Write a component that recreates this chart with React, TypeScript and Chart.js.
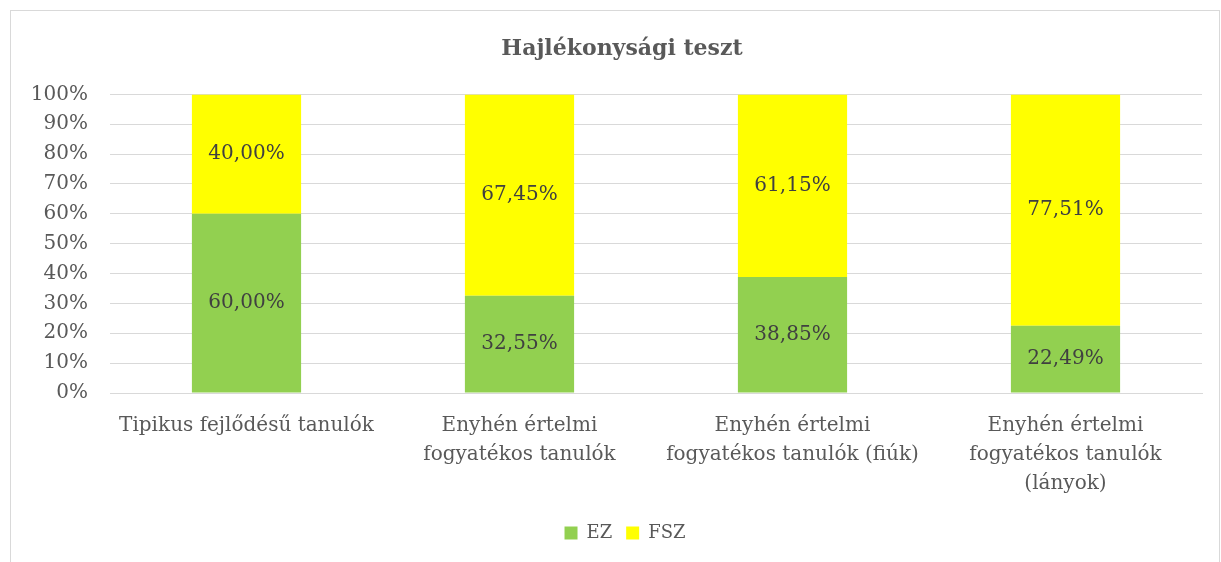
import React, { useEffect, useRef } from "react";
import { Chart, registerables } from "chart.js";

Chart.register(...registerables);

const categories: (string | string[])[] = [
  "Tipikus fejlődésű tanulók",
  ["Enyhén értelmi", "fogyatékos tanulók"],
  ["Enyhén értelmi", "fogyatékos tanulók (fiúk)"],
  ["Enyhén értelmi", "fogyatékos tanulók", "(lányok)"],
];
const ezValues = [60.0, 32.55, 38.85, 22.49];
const fszValues = [40.0, 67.45, 61.15, 77.51];
const seriesNames = ["EZ", "FSZ"];
const titleText = "Hajlékonysági teszt";

const FONT = "'DejaVu Serif', 'Liberation Serif', serif";

const frame = {
  id: "frame",
  beforeDraw(chart: any) {
    const ctx = chart.ctx;
    ctx.save();
    ctx.fillStyle = "#ffffff";
    ctx.fillRect(0, 0, chart.width, chart.height);
    ctx.strokeStyle = "#D9D9D9";
    ctx.lineWidth = 1;
    ctx.strokeRect(10.5, 10.5, 1209, 600);
    ctx.restore();
  },
};

// Centre title and legend over the bordered frame rather than the canvas
const recenter = {
  id: "recenter",
  afterLayout(chart: any) {
    const shift = (box: any, dx: number) => {
      if (!box) return;
      box.left += dx;
      box.right += dx;
    };
    shift(chart.titleBlock, 21);
    shift(chart.legend, 24);
  },
};

const valueLabels = {
  id: "valueLabels",
  afterDatasetsDraw(chart: any) {
    const ctx = chart.ctx;
    ctx.save();
    ctx.font = `20px ${FONT}`;
    ctx.fillStyle = "#404040";
    ctx.textAlign = "center";
    ctx.textBaseline = "middle";
    chart.data.datasets.forEach((ds: any, di: number) => {
      const meta = chart.getDatasetMeta(di);
      meta.data.forEach((bar: any, i: number) => {
        const v = ds.data[i];
        const y = (bar.y + bar.base) / 2;
        ctx.fillText(v.toFixed(2).replace(".", ",") + "%", bar.x, y);
      });
    });
    ctx.restore();
  },
};

export default function App() {
  const ref = useRef<HTMLCanvasElement>(null);
  useEffect(() => {
    const chart = new Chart(ref.current!, {
      type: "bar",
      data: {
        labels: categories,
        datasets: [
          { label: seriesNames[0], data: ezValues, backgroundColor: "#92D050" },
          { label: seriesNames[1], data: fszValues, backgroundColor: "#FFFF00" },
        ],
      },
      options: {
        animation: false,
        responsive: false,
        layout: { padding: { left: 0, right: 19, top: 0, bottom: 10 } },
        datasets: { bar: { barPercentage: 0.4, categoryPercentage: 1 } },
        scales: {
          x: {
            stacked: true,
            grid: { display: false, drawTicks: false },
            border: { color: "#D9D9D9" },
            ticks: {
              color: "#595959",
              font: { family: FONT, size: 20, lineHeight: 1.45 },
              padding: 18,
              maxRotation: 0,
              autoSkip: false,
            },
            afterFit: (s: any) => {
              s.height = 117;
            },
          },
          y: {
            stacked: true,
            min: 0,
            max: 100,
            grid: { color: "#D9D9D9", drawTicks: false },
            border: { display: false },
            ticks: {
              stepSize: 10,
              color: "#595959",
              font: { family: FONT, size: 20 },
              padding: 22,
              callback: (v: any) => v + "%",
            },
            afterFit: (s: any) => {
              s.width = 110;
            },
          },
        },
        plugins: {
          title: {
            display: true,
            text: titleText,
            color: "#595959",
            font: { family: FONT, size: 22, weight: "bold" },
            padding: { top: 36, bottom: 32 },
          },
          legend: {
            position: "bottom",
            labels: {
              color: "#595959",
              font: { family: FONT, size: 18 },
              boxWidth: 13,
              boxHeight: 13,
              padding: 14,
            },
          },
          tooltip: { enabled: false },
        },
      },
      plugins: [frame, recenter, valueLabels],
    });
    return () => chart.destroy();
  }, []);
  return (
    <div style={{ position: "absolute", left: 0, top: 0, width: 1221, height: 562 }}>
      <canvas ref={ref} width={1221} height={562} />
    </div>
  );
}
